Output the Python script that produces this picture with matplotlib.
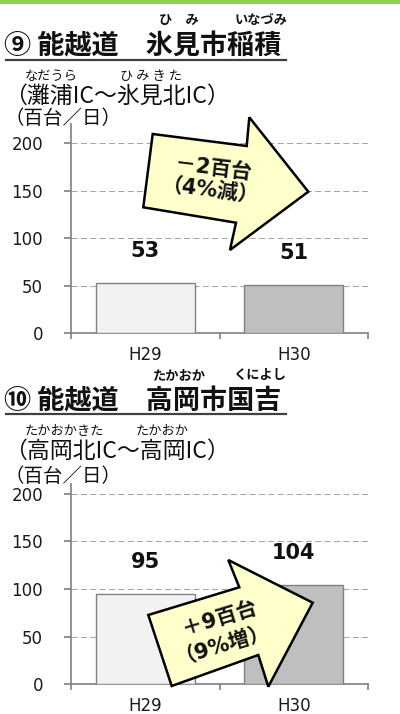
import matplotlib
matplotlib.use('Agg')
import matplotlib.pyplot as plt
from matplotlib.patches import Polygon, Rectangle
from matplotlib.lines import Line2D

# ---------------- data ----------------
categories = ['H29', 'H30']
traffic_himi = [53, 51]          # 百台/日
traffic_takaoka = [95, 104]      # 百台/日
yticks = [0, 50, 100, 150, 200]

title1 = '⑨ 能越道　氷見市稲積'
title2 = '⑩ 能越道　高岡市国吉'
section1 = '（灘浦IC～氷見北IC）'
section2 = '（高岡北IC～高岡IC）'
unit = '（百台／日）'
change1 = ['－2百台', '（4%減）']
change2 = ['＋9百台', '（9%増）']

# ---------------- layout helpers ----------------
W, H, DPI = 400, 714, 100
JP = ['Noto Sans CJK JP', 'DejaVu Sans']
NUM = ['DejaVu Sans', 'Noto Sans CJK JP']

fig = plt.figure(figsize=(W / DPI, H / DPI), dpi=DPI)
fig.patch.set_facecolor('white')


def fx(x):
    return x / W


def fy(y):
    return 1 - y / H


def ftext(x, y, s, **kw):
    return fig.text(fx(x), fy(y), s, **kw)


# green band at top
fig.add_artist(Rectangle((0, fy(4)), 1, 4 / H, transform=fig.transFigure,
                         facecolor='#92d050', edgecolor='none', zorder=1))

GRID = '#a6a6a6'
AX = '#808080'


def draw_chart(ax, values, ymax):
    x = list(range(len(categories)))
    bars = ax.bar(x, values, width=0.67, color=['#f2f2f2', '#bfbfbf'],
                  edgecolor=AX, linewidth=1.0, zorder=3)
    ax.set_xlim(-0.5, len(categories) - 0.5)
    ax.set_ylim(0, ymax)
    ax.set_yticks(yticks)
    ax.yaxis.grid(True, color=GRID, linestyle=(0, (5.8, 3.2)), linewidth=0.75)
    ax.set_axisbelow(True)
    for s in ['top', 'right']:
        ax.spines[s].set_visible(False)
    for s in ['left', 'bottom']:
        ax.spines[s].set_color(AX)
        ax.spines[s].set_linewidth(1.2)
    ax.set_xticks(x)
    ax.set_xticklabels(categories, fontfamily=NUM)
    ax.set_xticks([i - 0.5 for i in range(len(categories) + 1)], minor=True)
    ax.tick_params(axis='x', which='major', length=0, pad=9.5, labelsize=12,
                   labelcolor='#1a1a1a')
    ax.tick_params(axis='x', which='minor', length=4.5, width=1.2, color=AX,
                   direction='out')
    ax.tick_params(axis='y', length=5, width=1.2, color=AX, pad=15,
                   labelsize=12, labelcolor='#1a1a1a')
    for lab in ax.get_yticklabels():
        lab.set_fontfamily(NUM)
    for b, v in zip(bars, values):
        ax.annotate(str(v), (b.get_x() + b.get_width() / 2, v),
                    xytext=(0, 23), textcoords='offset points',
                    ha='center', va='center', fontsize=15, fontweight='bold',
                    family=NUM, color='#111111')


ax1 = fig.add_axes([fx(71), fy(333.3), 297 / W, 209.3 / H])
draw_chart(ax1, traffic_himi, 220)
ax2 = fig.add_axes([fx(71), fy(684.3), 297 / W, 200.3 / H])
draw_chart(ax2, traffic_takaoka, 210)


def header(title, ty, uy, rubies_t, section, sy, rubies_s, unit_y):
    ftext(4, ty, title, family=JP, fontsize=19.5, fontweight='bold',
          ha='left', va='center', color='#111111')
    fig.add_artist(Line2D([fx(6), fx(286)], [fy(uy), fy(uy)],
                          transform=fig.transFigure, color='#404040', lw=1.6))
    for s, cx, cy in rubies_t:
        ftext(cx, cy, s, family=JP, fontsize=9.5, fontweight='bold',
              ha='center', va='center', color='#111111')
    ftext(4, sy, section, family=JP, fontsize=16.5, ha='left', va='center',
          color='#111111')
    for s, cx, cy in rubies_s:
        ftext(cx, cy, s, family=JP, fontsize=9.5, ha='center', va='center',
              color='#111111')
    ftext(4, unit_y, unit, family=JP, fontsize=14, ha='left', va='center',
          color='#111111')


header(title1, 46.3, 60.0,
       [('ひ　み', 179, 20), ('いなづみ', 261, 20)],
       section1, 96.7,
       [('なだうら', 51.5, 76.7), ('ひ み き た', 151.5, 76.7)],
       118.3)
header(title2, 401.7, 414.0,
       [('たかおか', 179, 375), ('くによし', 260, 375)],
       section2, 451.7,
       [('たかおかきた', 64, 431), ('たかおか', 162.5, 431)],
       477)

# change arrows (pixel outline)
ARROW_FC = '#ffffcc'
arrow1 = [(152.7, 134.0), (246.7, 146.0), (249.3, 117.3), (308.3, 191.7),
          (230.0, 250.0), (236.0, 222.7), (143.3, 207.3)]
arrow2 = [(148.3, 615.0), (239.3, 587.3), (228.3, 560.0), (312.7, 602.7),
          (268.3, 686.7), (258.3, 655.0), (171.7, 686.0)]
for pts in (arrow1, arrow2):
    fig.add_artist(Polygon([(fx(a), fy(b)) for a, b in pts], closed=True,
                           transform=fig.transFigure, facecolor=ARROW_FC,
                           edgecolor='black', linewidth=1.8, zorder=10))

for (s, cx, cy) in [(change1[0], 213.3, 168.3), (change1[1], 210.0, 191.7)]:
    ftext(cx, cy, s, family=NUM, fontsize=15, fontweight='bold', rotation=-7,
          rotation_mode='anchor', ha='center', va='center', zorder=11,
          color='#111111')
for (s, cx, cy) in [(change2[0], 220.0, 618.3), (change2[1], 221.7, 641.7)]:
    ftext(cx, cy, s, family=NUM, fontsize=15, fontweight='bold', rotation=17,
          rotation_mode='anchor', ha='center', va='center', zorder=11,
          color='#111111')

fig.savefig('out.png', dpi=DPI, facecolor='white')
